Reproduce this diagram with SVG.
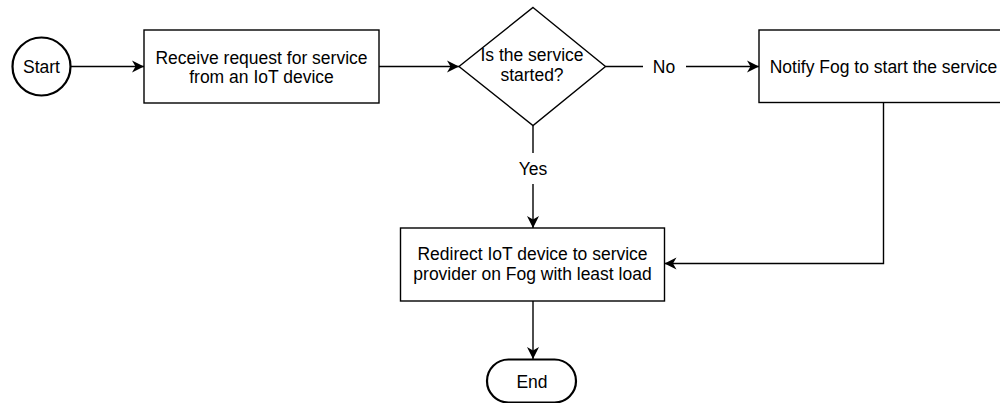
<svg xmlns="http://www.w3.org/2000/svg" width="1000" height="403" viewBox="0 0 1000 403">
  <style>
    .shape { fill: #ffffff; stroke: #000000; stroke-width: 1.4; }
    .term { fill: #ffffff; stroke: #000000; stroke-width: 2.2; }
    .edge { fill: none; stroke: #000000; stroke-width: 1.4; }
    text { font-family: "Liberation Sans", Arial, Helvetica, sans-serif; font-size: 17.5px; fill: #000000; text-anchor: middle; }
  </style>
  <defs>
    <marker id="arrow" markerUnits="userSpaceOnUse" markerWidth="14" markerHeight="14" viewBox="-12 -7 14 14" refX="0" refY="0" orient="auto">
      <path d="M0,0 L-12,-6 L-8.5,0 L-12,6 Z" fill="#000000"/>
    </marker>
  </defs>

  <rect width="1000" height="403" fill="#ffffff"/>

  <!-- connectors -->
  <g id="connectors">
    <path class="edge" d="M71,66.5 L144,66.5" marker-end="url(#arrow)"/>
    <path class="edge" d="M379,66.5 L459,66.5" marker-end="url(#arrow)"/>
    <path class="edge" d="M605.5,66.5 L643,66.5"/>
    <path class="edge" d="M686,66.5 L759,66.5" marker-end="url(#arrow)"/>
    <text x="664" y="73">No</text>
    <path class="edge" d="M533,125.5 L533,153"/>
    <path class="edge" d="M533,184 L533,228" marker-end="url(#arrow)"/>
    <text x="533" y="175">Yes</text>
    <path class="edge" d="M883.5,102.5 L883.5,263.5 L664.5,263.5" marker-end="url(#arrow)"/>
    <path class="edge" d="M533,301 L533,359" marker-end="url(#arrow)"/>
  </g>

  <!-- start terminal -->
  <g id="start">
    <circle class="term" cx="41.5" cy="66.5" r="29"/>
    <text x="41.5" y="72.5">Start</text>
  </g>

  <!-- receive request -->
  <g id="receive">
    <rect class="shape" x="144" y="30" width="235" height="73"/>
    <text x="261.5" y="64">Receive request for service</text>
    <text x="261.5" y="83">from an IoT device</text>
  </g>

  <!-- decision -->
  <g id="decision">
    <polygon class="shape" points="533,7.5 605.5,66.5 533,125.5 459,66.5"/>
    <text x="532" y="61">Is the service</text>
    <text x="532" y="81">started?</text>
  </g>

  <!-- notify fog -->
  <g id="notify">
    <rect class="shape" x="759" y="30" width="249" height="72.5"/>
    <text x="883.5" y="73">Notify Fog to start the service</text>
  </g>

  <!-- redirect device -->
  <g id="redirect">
    <rect class="shape" x="400.5" y="228" width="264" height="73"/>
    <text x="532.5" y="260">Redirect IoT device to service</text>
    <text x="532.5" y="280">provider on Fog with least load</text>
  </g>

  <!-- end terminal -->
  <g id="end">
    <rect class="term" x="487" y="359.5" width="89" height="43" rx="21.5" ry="21.5"/>
    <text x="532" y="387.5">End</text>
  </g>
</svg>
